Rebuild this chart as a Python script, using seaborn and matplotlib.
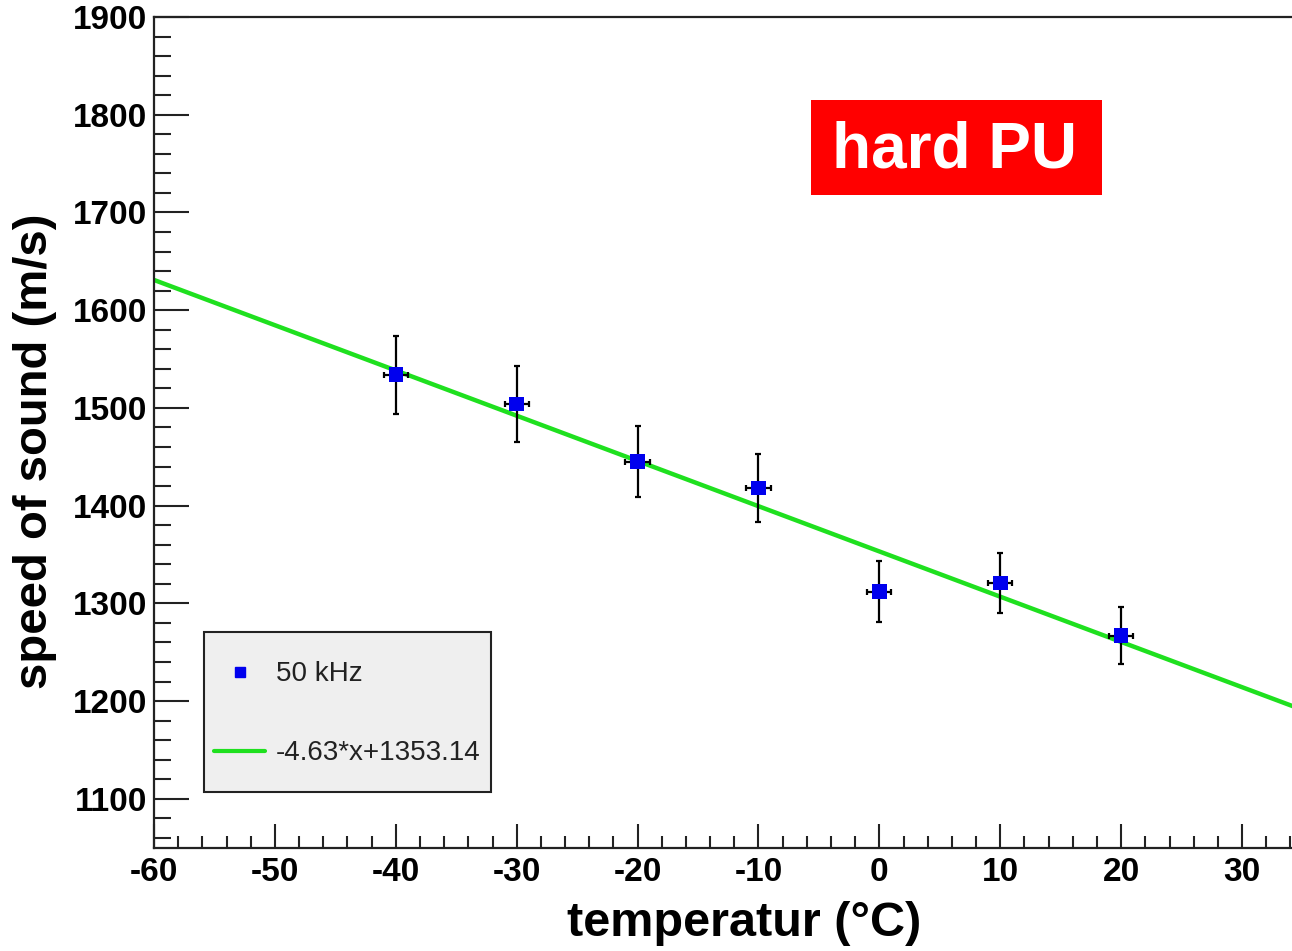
import numpy as np
import pandas as pd
import matplotlib
matplotlib.use("Agg")
import matplotlib.pyplot as plt
import seaborn as sns
from matplotlib.patches import Rectangle
from matplotlib.ticker import MultipleLocator

# ---- data ----
temperature = [-40, -30, -20, -10, 0, 10, 20]
speed = [1534, 1504, 1445, 1418, 1312, 1321, 1267]
speed_err = [40, 39, 36, 35, 31, 31, 29]
temp_err = [1, 1, 1, 1, 1, 1, 1]
fit_slope = -4.63
fit_intercept = 1353.14
fit_range = [-60, 34.2]
series_label = "50 kHz"
fit_label = "-4.63*x+1353.14"
tag_text = "hard PU"

sns.set_theme(style="white")
plt.rcParams['font.family'] = ['Liberation Sans', 'DejaVu Sans']
plt.rcParams['axes.unicode_minus'] = False
plt.rcParams['text.color'] = 'black'
plt.rcParams['axes.labelcolor'] = 'black'
plt.rcParams['xtick.color'] = 'black'
plt.rcParams['ytick.color'] = 'black'

fig = plt.figure(figsize=(12.92, 9.51), dpi=100)
ax = fig.add_axes([154/1292, 1 - 847.7/951, 1 - 154/1292, (847.7 - 17)/951])

df = pd.DataFrame({"temperature": temperature, "speed": speed})
fit_x = np.array(fit_range, dtype=float)
fit_df = pd.DataFrame({"temperature": fit_x, "speed": fit_slope * fit_x + fit_intercept})

sns.lineplot(data=fit_df, x="temperature", y="speed", color="#1fe01f", lw=3.2, ax=ax, zorder=2)
ax.errorbar(temperature, speed, yerr=speed_err, xerr=temp_err, fmt="none",
            ecolor="black", elinewidth=1.6, capsize=2, capthick=1.6, zorder=3)
sns.scatterplot(data=df, x="temperature", y="speed", marker="s", s=110, color="#0000ee",
                edgecolor="none", ax=ax, zorder=4)

ax.set_xlim(-60, 34.13)
ax.set_ylim(1050, 1900)
ax.xaxis.set_major_locator(MultipleLocator(10))
ax.xaxis.set_minor_locator(MultipleLocator(2))
ax.yaxis.set_major_locator(MultipleLocator(100))
ax.yaxis.set_minor_locator(MultipleLocator(20))

for s in ["left", "bottom", "top"]:
    ax.spines[s].set_linewidth(1.6)
    ax.spines[s].set_color("#222222")
ax.spines["right"].set_visible(False)

ax.tick_params(axis="y", which="major", direction="in", length=25, width=1.5, color="#222222",
               labelsize=24, pad=5, left=True, labelcolor="black")
ax.tick_params(axis="y", which="minor", direction="in", length=12, width=1.5, color="#222222", left=True)
ax.tick_params(axis="x", which="major", direction="in", length=17, width=1.5, color="#222222",
               labelsize=24, pad=7, bottom=True, labelcolor="black")
ax.tick_params(axis="x", which="minor", direction="in", length=8.5, width=1.5, color="#222222", bottom=True)
for lab in ax.get_xticklabels() + ax.get_yticklabels():
    lab.set_fontweight("bold")

ax.set_xlabel("temperatur (°C)", fontsize=35, fontweight="bold", color="black")
ax.set_ylabel("speed of sound (m/s)", fontsize=34, fontweight="bold", color="black")
ax.xaxis.set_label_coords(0.519, -0.064)
ax.yaxis.set_label_coords(-0.085, 0.4776)

# legend box (drawn manually to match the ROOT layout)
x0 = (204 - 154) / 1138
x1 = (491 - 154) / 1138
y0 = (847.7 - 792) / 830.7
y1 = (847.7 - 632) / 830.7
ax.add_patch(Rectangle((x0, y0), x1 - x0, y1 - y0, transform=ax.transAxes,
                       facecolor="#efefef", edgecolor="#222222", lw=1.5, zorder=5))
def ax_x(px):
    return (px - 154) / 1138
def ax_y(py):
    return (847.7 - py) / 830.7
ax.plot([ax_x(240)], [ax_y(672)], marker="s", ms=7.5, color="#0000ee", ls="none",
        transform=ax.transAxes, zorder=6)
ax.text(ax_x(276), ax_y(674), series_label, transform=ax.transAxes, fontsize=20,
        va="center", ha="left", color="#222222", zorder=6)
ax.plot([ax_x(214), ax_x(265)], [ax_y(751), ax_y(751)], color="#1fe01f", lw=3,
        transform=ax.transAxes, zorder=6)
ax.text(ax_x(276), ax_y(753), fit_label, transform=ax.transAxes, fontsize=20,
        va="center", ha="left", color="#222222", zorder=6)

# red tag
fig.patches.append(Rectangle((811/1292, 1 - 195/951), 291/1292, 95/951,
                             transform=fig.transFigure, facecolor="#ff0000", edgecolor="none", zorder=10))
fig.text(955/1292, 1 - 150/951, tag_text, fontsize=46, fontweight="bold", color="white",
         ha="center", va="center", zorder=11)

fig.savefig("out.png", dpi=100)
